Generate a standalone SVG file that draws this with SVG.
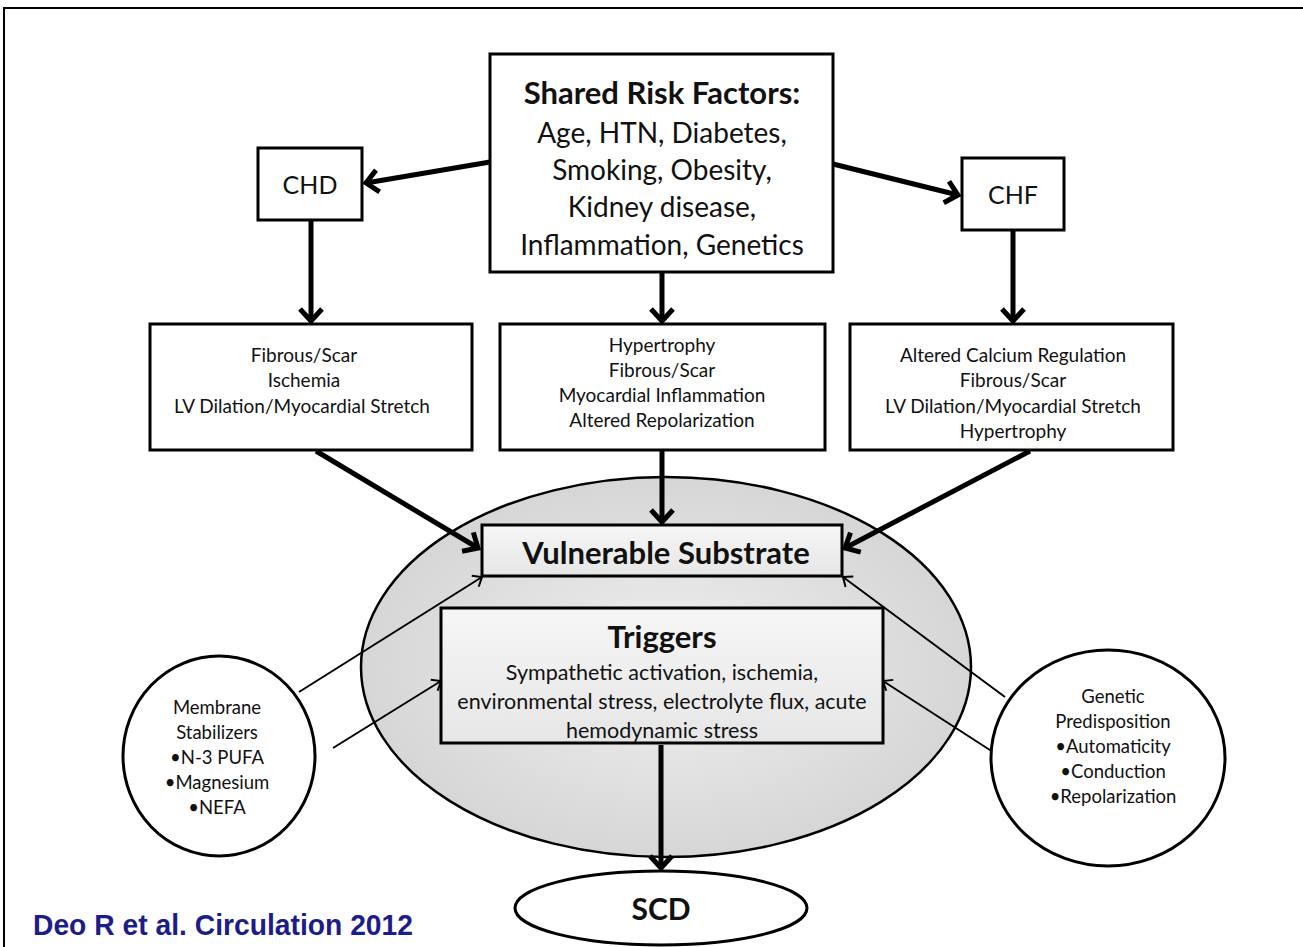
<svg xmlns="http://www.w3.org/2000/svg" width="1303" height="947" viewBox="0 0 1303 947">
<style>
.box{fill:#ffffff;stroke:#000;stroke-width:3}
.t{font-family:Lato,"Open Sans","DejaVu Sans",sans-serif;fill:#111;text-anchor:middle}
.b{font-weight:bold}
.s{font-size:19px}
.c{font-size:18.5px}
.thick{stroke:#000;stroke-width:5;fill:none}
.thin{stroke:#000;stroke-width:2;fill:none}
</style>
<defs>
<marker id="ah" markerUnits="userSpaceOnUse" markerWidth="28" markerHeight="28" viewBox="0 0 28 28" refX="23" refY="14" orient="auto">
<path d="M11,3 L23,14 L11,25" fill="none" stroke="#000" stroke-width="5" stroke-linejoin="miter"/>
</marker>
<marker id="ahs" markerUnits="userSpaceOnUse" markerWidth="16" markerHeight="16" viewBox="0 0 16 16" refX="14" refY="8" orient="auto">
<path d="M6,1.5 L14,8 L6,14.5" fill="none" stroke="#000" stroke-width="2"/>
</marker>
<radialGradient id="gE" cx="0.5" cy="0.5" r="0.5">
<stop offset="0" stop-color="#f0f0f0"/>
<stop offset="1" stop-color="#d6d6d6"/>
</radialGradient>
<linearGradient id="gB" x1="0" y1="0" x2="0" y2="1">
<stop offset="0" stop-color="#f6f6f6"/>
<stop offset="1" stop-color="#e6e6e6"/>
</linearGradient>
</defs>
<rect width="1303" height="947" fill="#fff"/>
<g id="frame"><path d="M4,947 V8 H1303" fill="none" stroke="#000" stroke-width="2"/></g>

<g id="substrate-ellipse"><ellipse cx="666" cy="667" rx="305" ry="190" fill="url(#gE)" stroke="#000" stroke-width="2.5"/></g>

<g id="connectors">
<line class="thick" x1="490" y1="162" x2="366" y2="183" marker-end="url(#ah)"/>
<line class="thick" x1="833" y1="164" x2="958" y2="195" marker-end="url(#ah)"/>
<line class="thick" x1="311" y1="221" x2="311" y2="321" marker-end="url(#ah)"/>
<line class="thick" x1="662" y1="273" x2="662" y2="321" marker-end="url(#ah)"/>
<line class="thick" x1="1013" y1="231" x2="1013" y2="321" marker-end="url(#ah)"/>
<line class="thick" x1="316" y1="451" x2="478" y2="548" marker-end="url(#ah)"/>
<line class="thick" x1="662" y1="451" x2="662" y2="522" marker-end="url(#ah)"/>
<line class="thick" x1="1030" y1="451" x2="845" y2="548" marker-end="url(#ah)"/>
<line class="thick" x1="661" y1="745" x2="661" y2="868" marker-end="url(#ah)"/>
<line class="thin" x1="299" y1="692" x2="482" y2="577" marker-end="url(#ahs)"/>
<line class="thin" x1="333" y1="748" x2="441" y2="681" marker-end="url(#ahs)"/>
<line class="thin" x1="1005" y1="697" x2="843" y2="577" marker-end="url(#ahs)"/>
<line class="thin" x1="993" y1="752" x2="883" y2="681" marker-end="url(#ahs)"/>
</g>

<g id="shared">
<rect class="box" x="490" y="54" width="343" height="218"/>
<text class="t b" x="662" y="104" font-size="31">Shared Risk Factors:</text>
<text class="t" x="662" y="143" font-size="28">Age, HTN, Diabetes,</text>
<text class="t" x="662" y="180" font-size="28">Smoking, Obesity,</text>
<text class="t" x="662" y="217" font-size="28">Kidney disease,</text>
<text class="t" x="662" y="255" font-size="28">Inflammation, Genetics</text>
</g>

<g id="chd">
<rect class="box" x="258" y="148" width="104" height="72"/>
<text class="t" x="310" y="194" font-size="25">CHD</text>
</g>

<g id="chf">
<rect class="box" x="962" y="158" width="102" height="72"/>
<text class="t" x="1013" y="204" font-size="25">CHF</text>
</g>

<g id="chd-effects">
<rect class="box" x="150" y="324" width="322" height="126"/>
<text class="t s" x="304" y="362">Fibrous/Scar</text>
<text class="t s" x="304" y="387">Ischemia</text>
<text class="t s" x="302" y="413">LV Dilation/Myocardial Stretch</text>
</g>

<g id="shared-effects">
<rect class="box" x="500" y="324" width="325" height="126"/>
<text class="t s" x="662" y="352">Hypertrophy</text>
<text class="t s" x="662" y="377">Fibrous/Scar</text>
<text class="t s" x="662" y="402">Myocardial Inflammation</text>
<text class="t s" x="662" y="427">Altered Repolarization</text>
</g>

<g id="chf-effects">
<rect class="box" x="850" y="324" width="323" height="126"/>
<text class="t s" x="1013" y="362">Altered Calcium Regulation</text>
<text class="t s" x="1013" y="387">Fibrous/Scar</text>
<text class="t s" x="1013" y="413">LV Dilation/Myocardial Stretch</text>
<text class="t s" x="1013" y="438">Hypertrophy</text>
</g>

<g id="vulnerable">
<rect x="482" y="525" width="360" height="51" fill="url(#gB)" stroke="#000" stroke-width="3"/>
<text class="t b" x="666" y="564" font-size="31">Vulnerable Substrate</text>
</g>

<g id="triggers">
<rect x="441" y="608" width="442" height="135" fill="url(#gB)" stroke="#000" stroke-width="3"/>
<text class="t b" x="662" y="648" font-size="31">Triggers</text>
<text class="t" x="662" y="680" font-size="21.5">Sympathetic activation, ischemia,</text>
<text class="t" x="662" y="709" font-size="21.5">environmental stress, electrolyte flux, acute</text>
<text class="t" x="662" y="738" font-size="21.5">hemodynamic stress</text>
</g>

<g id="membrane">
<ellipse cx="219" cy="756" rx="96" ry="100" fill="#fff" stroke="#000" stroke-width="3"/>
<text class="t c" x="217" y="714">Membrane</text>
<text class="t c" x="217" y="739">Stabilizers</text>
<text class="t c" x="217" y="764">•N-3 PUFA</text>
<text class="t c" x="217" y="789">•Magnesium</text>
<text class="t c" x="217" y="814">•NEFA</text>
</g>

<g id="genetic">
<ellipse cx="1108" cy="758" rx="117" ry="108" fill="#fff" stroke="#000" stroke-width="3"/>
<text class="t c" x="1113" y="703">Genetic</text>
<text class="t c" x="1113" y="728">Predisposition</text>
<text class="t c" x="1113" y="753">•Automaticity</text>
<text class="t c" x="1113" y="778">•Conduction</text>
<text class="t c" x="1113" y="803">•Repolarization</text>
</g>

<g id="scd">
<ellipse cx="661" cy="908" rx="146" ry="37" fill="#fff" stroke="#000" stroke-width="3"/>
<text class="t b" x="661" y="920" font-size="30">SCD</text>
</g>

<g id="citation">
<text x="33" y="935" font-family="'Liberation Sans Narrow','Liberation Sans',Arial,sans-serif" font-weight="bold" font-size="30" textLength="380" lengthAdjust="spacingAndGlyphs" fill="#1c1c8a">Deo R et al. Circulation 2012</text>
</g>
</svg>
